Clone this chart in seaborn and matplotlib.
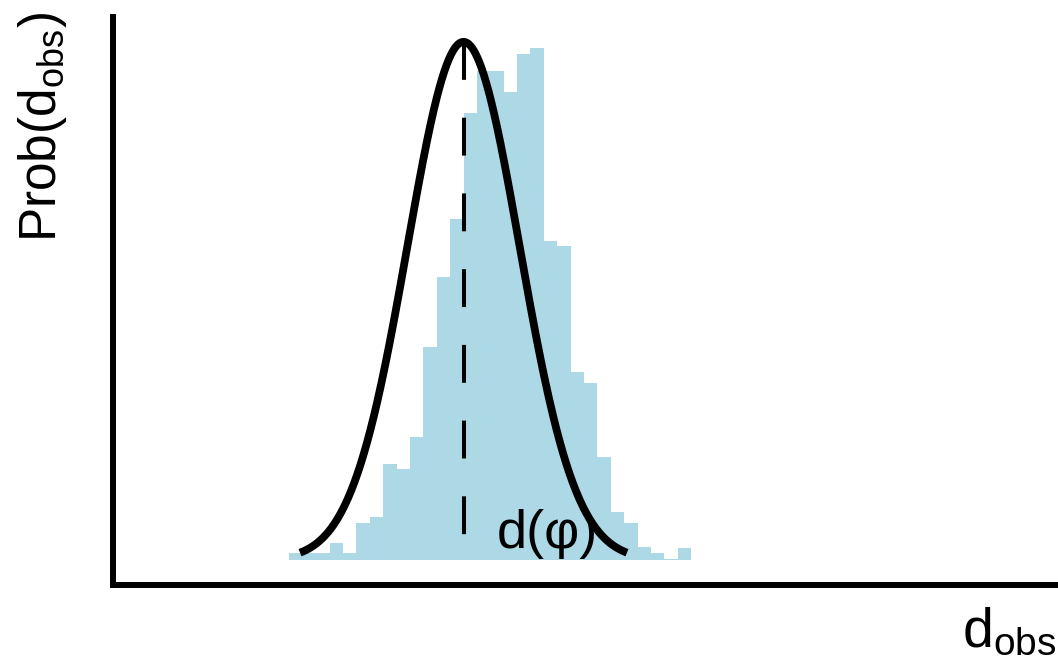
import numpy as np
import pandas as pd
import matplotlib
matplotlib.use("Agg")
import matplotlib.pyplot as plt
import seaborn as sns
from matplotlib import font_manager

# ---- data ----
bin_edges = list(range(0, 31))  # 30 equal-width bins of d_obs
bar_heights = [1.4, 1.4, 1.4, 3.3, 1.4, 7.2, 8.4, 18.8, 17.8, 24.0,
               41.6, 55.3, 66.6, 87.3, 95.5, 95.5, 91.4, 98.8, 100.0, 62.3,
               61.3, 36.7, 34.6, 20.1, 9.4, 7.2, 2.5, 1.4, 0.2, 2.3]
model_mean = 13.0      # d(phi)
model_sigma = 4.18
model_peak = 101.2
model_range = [0.8, 25.2]
x_label = "d$_{\\mathrm{obs}}$"
y_label = "Prob(d$_{\\mathrm{obs}}$)"
marker_label = "d(\u03c6)"

sns.set_style("white")
names = {f.name for f in font_manager.fontManager.ttflist}
fam = "Liberation Sans Narrow" if "Liberation Sans Narrow" in names else "Liberation Sans"
plt.rcParams["font.family"] = [fam, "DejaVu Sans"]
plt.rcParams["mathtext.fontset"] = "custom"
plt.rcParams["mathtext.rm"] = fam
plt.rcParams["mathtext.it"] = fam
plt.rcParams["mathtext.sf"] = fam
plt.rcParams["text.color"] = "black"
plt.rcParams["axes.labelcolor"] = "black"

fig = plt.figure(figsize=(10.58, 6.67), dpi=100)
ax = fig.add_axes([113 / 1058, 82 / 667, 945 / 1058, 568 / 667])

centers = [(a + b) / 2 for a, b in zip(bin_edges[:-1], bin_edges[1:])]
df = pd.DataFrame({"d": centers, "w": bar_heights})
sns.histplot(data=df, x="d", weights="w", bins=bin_edges, color="#ADD8E6",
             alpha=1, edgecolor="none", linewidth=0, ax=ax)

xs = np.linspace(model_range[0], model_range[1], 400)
ys = model_peak * np.exp(-0.5 * ((xs - model_mean) / model_sigma) ** 2)
sns.lineplot(x=xs, y=ys, color="black", linewidth=5.6, ax=ax,
             solid_capstyle="butt")

ax.plot([model_mean, model_mean], [model_peak, 3.5], color="black",
        linewidth=2.9, linestyle=(0, (9.4, 9.4)))

ax.text(15.5, 2.34, marker_label, fontsize=39, color="black",
        ha="left", va="baseline")

ax.set_xlim(-13.16, 57.37)
ax.set_ylim(-4.88, 106.05)
ax.set_xticks([])
ax.set_yticks([])
for s in ["top", "right"]:
    ax.spines[s].set_visible(False)
for s in ["left", "bottom"]:
    ax.spines[s].set_linewidth(4.3)
    ax.spines[s].set_color("black")

ax.set_xlabel(x_label, fontsize=40, ha="center", va="center")
ax.xaxis.set_label_coords(0.948, -0.085)
ax.set_ylabel(y_label, fontsize=37, ha="center", va="center")
ax.yaxis.set_label_coords(-0.075, 0.806)

fig.savefig("out.png", dpi=100)
